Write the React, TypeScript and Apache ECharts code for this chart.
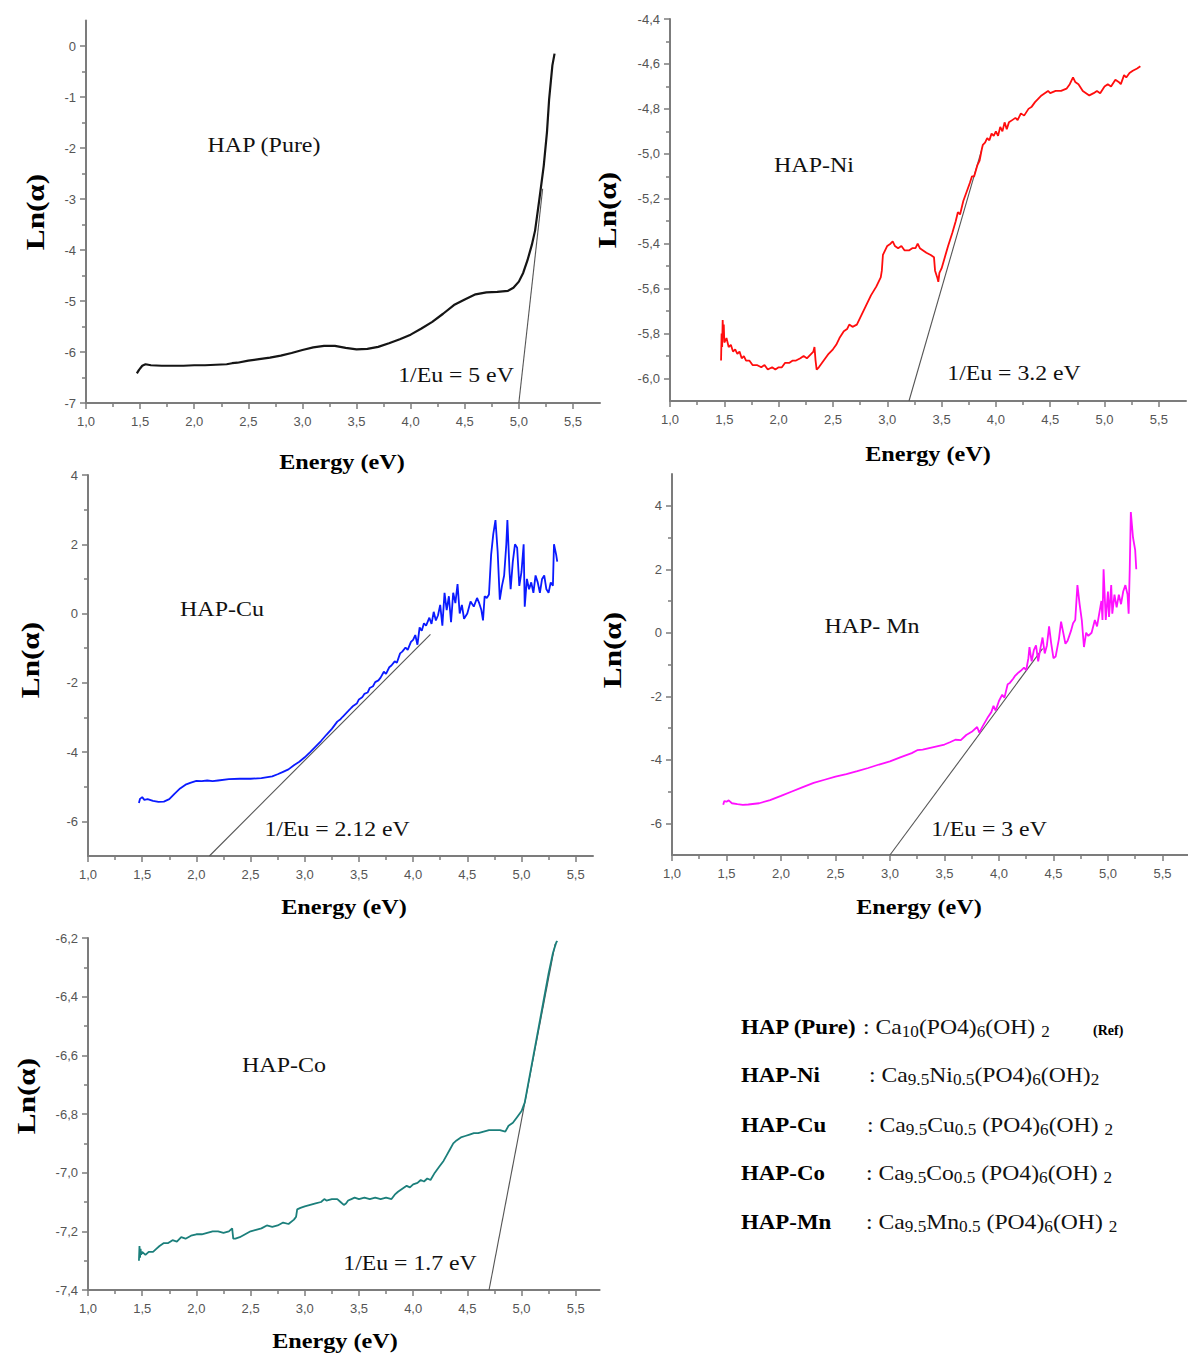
import React, { useEffect, useRef } from 'react';
import * as echarts from 'echarts';

// ---------- data ----------
const xMajorTicks = [1.0, 1.5, 2.0, 2.5, 3.0, 3.5, 4.0, 4.5, 5.0, 5.5];
const xMinorTicks = [1.25, 1.75, 2.25, 2.75, 3.25, 3.75, 4.25, 4.75, 5.25, 5.75];

const pureYMajor = [-7, -6, -5, -4, -3, -2, -1, 0];
const pureYMinor = [-6.5, -5.5, -4.5, -3.5, -2.5, -1.5, -0.5];
const niYMajor = [-6.0, -5.8, -5.6, -5.4, -5.2, -5.0, -4.8, -4.6, -4.4];
const niYMinor = [-5.9, -5.7, -5.5, -5.3, -5.1, -4.9, -4.7, -4.5];
const cuYMajor = [-6, -4, -2, 0, 2, 4];
const cuYMinor = [-5, -3, -1, 1, 3];
const mnYMajor = [-6, -4, -2, 0, 2, 4];
const mnYMinor = [-5, -3, -1, 1, 3];
const coYMajor = [-7.4, -7.2, -7.0, -6.8, -6.6, -6.4, -6.2];
const coYMinor = [-7.3, -7.1, -6.9, -6.7, -6.5, -6.3];

const pureData = [
  [1.47, -6.42], [1.49, -6.35], [1.52, -6.27], [1.55, -6.24], [1.6, -6.26], [1.7, -6.27], [1.8, -6.27],
  [1.9, -6.27], [2.0, -6.26], [2.1, -6.26], [2.2, -6.25], [2.3, -6.24], [2.35, -6.22], [2.4, -6.21],
  [2.5, -6.17], [2.6, -6.14], [2.7, -6.11], [2.8, -6.07], [2.9, -6.02], [3.0, -5.96], [3.1, -5.91],
  [3.2, -5.88], [3.3, -5.88], [3.4, -5.92], [3.5, -5.95], [3.6, -5.94], [3.7, -5.9], [3.8, -5.83],
  [3.9, -5.75], [4.0, -5.66], [4.1, -5.54], [4.2, -5.41], [4.3, -5.25], [4.4, -5.08], [4.5, -4.97],
  [4.6, -4.87], [4.7, -4.83], [4.8, -4.82], [4.9, -4.8], [4.95, -4.74], [5.0, -4.62], [5.04, -4.45],
  [5.08, -4.2], [5.12, -3.9], [5.15, -3.62], [5.19, -3.0], [5.23, -2.35], [5.26, -1.69], [5.28, -1.04],
  [5.31, -0.38], [5.33, -0.15],
];
const pureTangent = [[5.0, -7.0], [5.22, -2.8]];

const niData = [
  [1.47, -5.92], [1.475, -5.8], [1.48, -5.86], [1.485, -5.74], [1.49, -5.82], [1.495, -5.76], [1.5, -5.84],
  [1.52, -5.82], [1.54, -5.86], [1.56, -5.85], [1.58, -5.88], [1.6, -5.87], [1.62, -5.89], [1.64, -5.88],
  [1.66, -5.91], [1.68, -5.9], [1.7, -5.92], [1.73, -5.92], [1.76, -5.94], [1.8, -5.94], [1.84, -5.95],
  [1.87, -5.94], [1.9, -5.96], [1.94, -5.95], [1.97, -5.96], [2.0, -5.95], [2.03, -5.95], [2.06, -5.93],
  [2.1, -5.93], [2.13, -5.92], [2.16, -5.92], [2.2, -5.91], [2.23, -5.9], [2.26, -5.91], [2.3, -5.89],
  [2.32, -5.88], [2.33, -5.86], [2.34, -5.92], [2.35, -5.96], [2.37, -5.95], [2.4, -5.93], [2.43, -5.91],
  [2.46, -5.89], [2.5, -5.87], [2.53, -5.85], [2.56, -5.82], [2.6, -5.79], [2.63, -5.78], [2.65, -5.76],
  [2.68, -5.77], [2.72, -5.76], [2.75, -5.73], [2.8, -5.68], [2.85, -5.63], [2.9, -5.59], [2.94, -5.55],
  [2.95, -5.52], [2.96, -5.45], [2.98, -5.43], [3.0, -5.41], [3.03, -5.4], [3.05, -5.39], [3.07, -5.41],
  [3.1, -5.42], [3.13, -5.41], [3.16, -5.43], [3.2, -5.43], [3.23, -5.42], [3.26, -5.42], [3.28, -5.4],
  [3.3, -5.42], [3.33, -5.43], [3.36, -5.44], [3.4, -5.45], [3.43, -5.46], [3.44, -5.52], [3.46, -5.55],
  [3.47, -5.57], [3.48, -5.53], [3.5, -5.51], [3.53, -5.46], [3.56, -5.41], [3.6, -5.35], [3.63, -5.3],
  [3.65, -5.26], [3.67, -5.27], [3.7, -5.21], [3.73, -5.17], [3.76, -5.13], [3.78, -5.1], [3.8, -5.1],
  [3.83, -5.05], [3.85, -5.03], [3.87, -4.98], [3.88, -4.96], [3.9, -4.95], [3.92, -4.93], [3.94, -4.94],
  [3.96, -4.91], [3.98, -4.92], [4.0, -4.9], [4.02, -4.92], [4.04, -4.88], [4.06, -4.9], [4.08, -4.86],
  [4.1, -4.89], [4.12, -4.86], [4.15, -4.85], [4.18, -4.84], [4.2, -4.85], [4.23, -4.82], [4.26, -4.83],
  [4.3, -4.8], [4.33, -4.79], [4.36, -4.77], [4.4, -4.75], [4.42, -4.74], [4.45, -4.73], [4.48, -4.72],
  [4.5, -4.73], [4.55, -4.72], [4.6, -4.72], [4.65, -4.71], [4.68, -4.69], [4.71, -4.66], [4.73, -4.68],
  [4.76, -4.69], [4.8, -4.72], [4.83, -4.73], [4.86, -4.74], [4.9, -4.73], [4.93, -4.72], [4.96, -4.73],
  [5.0, -4.7], [5.03, -4.69], [5.06, -4.7], [5.1, -4.67], [5.13, -4.68], [5.15, -4.69], [5.18, -4.65],
  [5.2, -4.66], [5.23, -4.64], [5.26, -4.63], [5.3, -4.62], [5.33, -4.61],
];
const niTangent = [[3.2, -6.1], [3.87, -4.98]];

const cuData = [
  [1.47, -5.47], [1.48, -5.35], [1.5, -5.3], [1.52, -5.38], [1.55, -5.36], [1.6, -5.41], [1.65, -5.44],
  [1.7, -5.43], [1.75, -5.36], [1.8, -5.2], [1.85, -5.05], [1.9, -4.94], [1.95, -4.88], [2.0, -4.83],
  [2.05, -4.84], [2.1, -4.82], [2.15, -4.84], [2.2, -4.82], [2.3, -4.78], [2.4, -4.77], [2.5, -4.77],
  [2.6, -4.75], [2.7, -4.7], [2.75, -4.64], [2.8, -4.57], [2.85, -4.5], [2.9, -4.38], [2.95, -4.28],
  [3.0, -4.15], [3.05, -4.0], [3.1, -3.84], [3.15, -3.68], [3.2, -3.5], [3.25, -3.33], [3.3, -3.12],
  [3.33, -3.05], [3.35, -2.98], [3.4, -2.82], [3.43, -2.72], [3.45, -2.66], [3.48, -2.6], [3.5, -2.48],
  [3.53, -2.42], [3.55, -2.32], [3.58, -2.28], [3.6, -2.15], [3.63, -2.1], [3.65, -1.98], [3.68, -1.93],
  [3.7, -1.85], [3.73, -1.68], [3.75, -1.74], [3.78, -1.55], [3.8, -1.5], [3.83, -1.38], [3.85, -1.42],
  [3.88, -1.15], [3.9, -1.1], [3.93, -0.98], [3.95, -1.05], [3.98, -0.82], [4.0, -0.76], [4.02, -0.62],
  [4.04, -0.9], [4.06, -0.4], [4.08, -0.5], [4.1, -0.28], [4.12, -0.35], [4.15, -0.12], [4.17, -0.3],
  [4.19, 0.05], [4.21, -0.2], [4.23, -0.05], [4.25, 0.25], [4.27, -0.35], [4.29, 0.6], [4.31, 0.1],
  [4.33, 0.5], [4.35, -0.25], [4.37, 0.6], [4.39, 0.3], [4.41, 0.85], [4.43, 0.0], [4.45, 0.25],
  [4.47, -0.15], [4.5, 0.0], [4.53, 0.35], [4.56, 0.2], [4.59, 0.45], [4.61, 0.3], [4.63, 0.1],
  [4.645, -0.2], [4.66, 0.5], [4.68, 0.45], [4.7, 0.55], [4.72, 1.7], [4.74, 2.3], [4.76, 2.7],
  [4.78, 1.8], [4.8, 0.4], [4.82, 0.8], [4.84, 1.1], [4.86, 2.0], [4.87, 2.7], [4.89, 1.2], [4.9, 0.7],
  [4.92, 1.5], [4.94, 2.0], [4.96, 1.9], [4.98, 0.8], [5.0, 1.2], [5.02, 2.0], [5.03, 0.2], [5.05, 1.0],
  [5.07, 0.7], [5.09, 0.9], [5.11, 0.6], [5.13, 1.1], [5.15, 0.9], [5.17, 0.6], [5.19, 1.0], [5.21, 1.1],
  [5.23, 0.7], [5.25, 0.6], [5.27, 0.9], [5.29, 0.8], [5.3, 2.0], [5.32, 1.7], [5.33, 1.5],
];
const cuTangent = [[2.12, -7.0], [4.16, -0.6]];

const mnData = [
  [1.47, -5.42], [1.48, -5.3], [1.5, -5.32], [1.52, -5.28], [1.55, -5.37], [1.6, -5.4], [1.65, -5.42],
  [1.7, -5.41], [1.8, -5.37], [1.9, -5.27], [2.0, -5.14], [2.1, -5.0], [2.2, -4.86], [2.3, -4.73],
  [2.4, -4.63], [2.5, -4.53], [2.6, -4.45], [2.7, -4.36], [2.8, -4.26], [2.9, -4.15], [3.0, -4.05],
  [3.1, -3.92], [3.2, -3.79], [3.25, -3.7], [3.3, -3.68], [3.4, -3.6], [3.5, -3.52], [3.55, -3.45],
  [3.6, -3.37], [3.65, -3.38], [3.7, -3.22], [3.75, -3.12], [3.8, -2.97], [3.82, -3.15], [3.85, -2.95],
  [3.9, -2.65], [3.93, -2.5], [3.95, -2.3], [3.97, -2.45], [4.0, -2.15], [4.03, -1.95], [4.05, -2.05],
  [4.08, -1.62], [4.1, -1.58], [4.13, -1.45], [4.15, -1.35], [4.18, -1.25], [4.2, -1.2], [4.23, -1.1],
  [4.25, -1.18], [4.27, -0.8], [4.28, -0.45], [4.3, -0.9], [4.32, -0.55], [4.34, -0.4], [4.36, -0.9],
  [4.38, -0.5], [4.4, -0.15], [4.42, -0.65], [4.44, -0.4], [4.46, 0.2], [4.48, -0.35], [4.5, -0.8],
  [4.52, -0.75], [4.55, -0.2], [4.57, 0.35], [4.59, 0.0], [4.61, -0.35], [4.63, -0.25], [4.66, 0.05],
  [4.68, 0.3], [4.7, 0.4], [4.72, 1.5], [4.74, 0.9], [4.76, 0.4], [4.78, -0.45], [4.8, 0.0], [4.82, -0.1],
  [4.85, 0.0], [4.88, 0.4], [4.9, 0.2], [4.92, 0.6], [4.94, 1.0], [4.95, 0.4], [4.96, 2.0], [4.97, 1.2],
  [4.98, 0.4], [5.0, 1.3], [5.01, 0.5], [5.03, 1.5], [5.04, 0.6], [5.06, 1.2], [5.08, 0.8], [5.1, 1.2],
  [5.12, 0.9], [5.14, 1.3], [5.16, 1.5], [5.18, 1.2], [5.19, 0.6], [5.2, 2.0], [5.21, 3.8], [5.23, 3.0],
  [5.25, 2.6], [5.26, 2.0],
];
const mnTangent = [[3.0, -7.0], [4.4, -0.5]];

const coData = [
  [1.47, -7.3], [1.475, -7.25], [1.48, -7.29], [1.485, -7.26], [1.49, -7.28], [1.5, -7.27], [1.53, -7.28],
  [1.56, -7.27], [1.6, -7.27], [1.63, -7.26], [1.66, -7.25], [1.7, -7.24], [1.74, -7.24], [1.78, -7.23],
  [1.82, -7.235], [1.86, -7.22], [1.9, -7.225], [1.95, -7.215], [2.0, -7.21], [2.05, -7.21], [2.1, -7.205],
  [2.15, -7.2], [2.2, -7.2], [2.25, -7.205], [2.3, -7.2], [2.33, -7.19], [2.34, -7.225], [2.36, -7.225],
  [2.4, -7.22], [2.45, -7.21], [2.5, -7.2], [2.55, -7.195], [2.6, -7.19], [2.65, -7.18], [2.7, -7.185],
  [2.75, -7.18], [2.8, -7.17], [2.85, -7.175], [2.9, -7.16], [2.92, -7.15], [2.93, -7.125], [2.96, -7.12],
  [3.0, -7.115], [3.05, -7.11], [3.1, -7.105], [3.15, -7.1], [3.18, -7.09], [3.2, -7.095], [3.25, -7.09],
  [3.3, -7.09], [3.33, -7.1], [3.36, -7.11], [3.38, -7.105], [3.4, -7.095], [3.43, -7.09], [3.46, -7.085],
  [3.5, -7.09], [3.55, -7.085], [3.6, -7.09], [3.65, -7.085], [3.7, -7.09], [3.75, -7.085], [3.8, -7.09],
  [3.83, -7.075], [3.86, -7.065], [3.9, -7.055], [3.94, -7.045], [3.97, -7.05], [4.0, -7.04], [4.04, -7.035],
  [4.07, -7.025], [4.1, -7.03], [4.13, -7.02], [4.16, -7.025], [4.2, -7.0], [4.24, -6.98], [4.28, -6.96],
  [4.31, -6.94], [4.34, -6.92], [4.37, -6.9], [4.4, -6.89], [4.44, -6.88], [4.48, -6.875], [4.52, -6.87],
  [4.56, -6.865], [4.6, -6.865], [4.65, -6.86], [4.7, -6.855], [4.75, -6.855], [4.8, -6.855], [4.85, -6.86],
  [4.88, -6.84], [4.92, -6.83], [4.96, -6.81], [5.0, -6.79], [5.03, -6.76], [5.06, -6.7], [5.1, -6.62],
  [5.15, -6.52], [5.2, -6.42], [5.25, -6.32], [5.29, -6.25], [5.32, -6.215], [5.33, -6.21],
];
const coTangent = [[4.7, -7.4], [5.31, -6.22]];

const sampleNames = ['HAP (Pure)', 'HAP-Ni', 'HAP-Cu', 'HAP- Mn', 'HAP-Co'];
const gapLabels = ['1/Eu = 5 eV', '1/Eu = 3.2 eV', '1/Eu = 2.12 eV', '1/Eu = 3 eV', '1/Eu = 1.7 eV'];

// ---------- layout ----------
const panels = [
  { data: pureData, tangent: pureTangent, color: '#151515', width: 2.2, xMax: 5.75, yMin: -7, yMax: 0.5, yMajor: pureYMajor, yMinor: pureYMinor, yDec: 0,
    grid: { left: 86, top: 20.5, width: 514, height: 382.5 }, name: { x: 264, y: 144 }, gap: { x: 456, y: 375 }, xt: { x: 342, y: 461 }, yt: { x: 35, y: 212 } },
  { data: niData, tangent: niTangent, color: '#ff0d0d', width: 1.8, xMax: 5.75, yMin: -6.1, yMax: -4.4, yMajor: niYMajor, yMinor: niYMinor, yDec: 1,
    grid: { left: 670, top: 19, width: 516, height: 382 }, name: { x: 814, y: 164 }, gap: { x: 1014, y: 373 }, xt: { x: 928, y: 453 }, yt: { x: 607, y: 210 } },
  { data: cuData, tangent: cuTangent, color: '#0a1aff', width: 1.8, xMax: 5.66, yMin: -7, yMax: 4, yMajor: cuYMajor, yMinor: cuYMinor, yDec: 0,
    grid: { left: 88, top: 475, width: 505, height: 381 }, name: { x: 222, y: 608 }, gap: { x: 337, y: 829 }, xt: { x: 344, y: 906 }, yt: { x: 30, y: 660 } },
  { data: mnData, tangent: mnTangent, color: '#ff10ff', width: 1.8, xMax: 5.73, yMin: -7, yMax: 5, yMajor: mnYMajor, yMinor: mnYMinor, yDec: 0,
    grid: { left: 672, top: 474, width: 515.5, height: 381 }, name: { x: 872, y: 625 }, gap: { x: 989, y: 829 }, xt: { x: 919, y: 906 }, yt: { x: 612, y: 650 } },
  { data: coData, tangent: coTangent, color: '#1b7f7b', width: 1.8, xMax: 5.72, yMin: -7.4, yMax: -6.2, yMajor: coYMajor, yMinor: coYMinor, yDec: 1,
    grid: { left: 88, top: 938, width: 511.6, height: 352 }, name: { x: 284, y: 1064 }, gap: { x: 410, y: 1263 }, xt: { x: 335, y: 1340 }, yt: { x: 26, y: 1096 } },
];

const legendRows = [
  { label: 'HAP (Pure)', formula: ': Ca{s|10}(PO4){s|6}(OH) {s|2}', y: 1027, fx: 863 },
  { label: 'HAP-Ni', formula: ': Ca{s|9.5}Ni{s|0.5}(PO4){s|6}(OH){s|2}', y: 1075, fx: 869 },
  { label: 'HAP-Cu', formula: ': Ca{s|9.5}Cu{s|0.5} (PO4){s|6}(OH) {s|2}', y: 1125, fx: 867 },
  { label: 'HAP-Co', formula: ': Ca{s|9.5}Co{s|0.5} (PO4){s|6}(OH) {s|2}', y: 1173, fx: 866 },
  { label: 'HAP-Mn', formula: ': Ca{s|9.5}Mn{s|0.5} (PO4){s|6}(OH) {s|2}', y: 1222, fx: 866 },
];

const AXIS_COLOR = '#7c7c7c';
const LABEL_COLOR = '#555555';
const SERIF = '"Liberation Serif", "Times New Roman", serif';
const SANS = '"Liberation Sans", Arial, sans-serif';
const fmt = (d: number) => (v: number) => Number(v).toFixed(d).replace('.', ',');

function buildOption() {
  const grid: any[] = [];
  const xAxis: any[] = [];
  const yAxis: any[] = [];
  const series: any[] = [];
  const graphic: any[] = [];

  panels.forEach((p, i) => {
    grid.push({ ...p.grid, containLabel: false, outerBoundsMode: 'none' });
    const xMinor = xMinorTicks.filter((v) => v < p.xMax - 1e-9);
    xAxis.push({
      type: 'value', gridIndex: i, min: 1, max: p.xMax, position: 'bottom',
      axisLine: { show: true, onZero: false, lineStyle: { color: AXIS_COLOR, width: 2 } },
      axisTick: { show: true, length: 6, inside: false, customValues: xMajorTicks, lineStyle: { color: AXIS_COLOR, width: 1.5 } },
      axisLabel: { show: true, customValues: xMajorTicks, formatter: fmt(1), margin: 12, color: LABEL_COLOR, fontSize: 13, fontFamily: SANS },
      splitLine: { show: false },
    });
    xAxis.push({
      type: 'value', gridIndex: i, min: 1, max: p.xMax, position: 'bottom',
      axisLine: { show: false, onZero: false },
      axisTick: { show: true, length: 4, customValues: xMinor, lineStyle: { color: AXIS_COLOR, width: 1.5 } },
      axisLabel: { show: false },
      splitLine: { show: false },
    });
    yAxis.push({
      type: 'value', gridIndex: i, min: p.yMin, max: p.yMax, position: 'left',
      axisLine: { show: true, onZero: false, lineStyle: { color: AXIS_COLOR, width: 2 } },
      axisTick: { show: true, length: 6, customValues: p.yMajor, lineStyle: { color: AXIS_COLOR, width: 1.5 } },
      axisLabel: { show: true, customValues: p.yMajor, formatter: fmt(p.yDec), margin: 10, color: LABEL_COLOR, fontSize: 13, fontFamily: SANS },
      splitLine: { show: false },
    });
    yAxis.push({
      type: 'value', gridIndex: i, min: p.yMin, max: p.yMax, position: 'left',
      axisLine: { show: false, onZero: false },
      axisTick: { show: true, length: 4, customValues: p.yMinor, lineStyle: { color: AXIS_COLOR, width: 1.5 } },
      axisLabel: { show: false },
      splitLine: { show: false },
    });
    series.push({
      type: 'line', xAxisIndex: 2 * i, yAxisIndex: 2 * i, data: p.tangent, showSymbol: false, symbol: 'none',
      lineStyle: { color: '#555555', width: 1.1 }, z: 2, silent: true,
    });
    series.push({
      type: 'line', xAxisIndex: 2 * i, yAxisIndex: 2 * i, data: p.data, showSymbol: false, symbol: 'none',
      lineStyle: { color: p.color, width: p.width }, z: 3, silent: true,
    });

    graphic.push({ type: 'text', x: p.name.x, y: p.name.y, scaleX: 1.09, style: { text: sampleNames[i], fill: '#111', fontSize: 22, fontFamily: SERIF, align: 'center', verticalAlign: 'middle' } });
    graphic.push({ type: 'text', x: p.gap.x, y: p.gap.y, scaleX: 1.08, style: { text: gapLabels[i], fill: '#111', fontSize: 22, fontFamily: SERIF, align: 'center', verticalAlign: 'middle' } });
    graphic.push({ type: 'text', x: p.xt.x, y: p.xt.y, scaleX: 1.1, style: { text: 'Energy (eV)', fill: '#000', fontSize: 22, fontWeight: 'bold', fontFamily: SERIF, align: 'center', verticalAlign: 'middle' } });
    graphic.push({ type: 'text', x: p.yt.x, y: p.yt.y, rotation: Math.PI / 2, scaleX: 1.2, style: { text: 'Ln(α)', fill: '#000', fontSize: 26, fontWeight: 'bold', fontFamily: SERIF, align: 'center', verticalAlign: 'middle' } });
  });

  legendRows.forEach((r) => {
    graphic.push({ type: 'text', x: 741, y: r.y, scaleX: 1.04, style: { text: r.label, fill: '#000', fontSize: 22, fontWeight: 'bold', fontFamily: SERIF, align: 'left', verticalAlign: 'middle' } });
    graphic.push({
      type: 'text', x: r.fx, y: r.y, scaleX: 1.075,
      style: {
        text: r.formula, fill: '#111', fontSize: 22, fontFamily: SERIF, align: 'left', verticalAlign: 'middle', lineHeight: 26,
        rich: { s: { fontSize: 16, fontFamily: SERIF, fill: '#111', verticalAlign: 'bottom', lineHeight: 26 } },
      },
    });
  });
  graphic.push({ type: 'text', x: 1093, y: 1030, style: { text: '(Ref)', fill: '#000', fontSize: 14, fontWeight: 'bold', fontFamily: SERIF, align: 'left', verticalAlign: 'middle' } });

  return { animation: false, backgroundColor: '#ffffff', grid, xAxis, yAxis, series, graphic };
}

export default function App() {
  const ref = useRef<HTMLDivElement>(null);
  useEffect(() => {
    if (!ref.current) return;
    const chart = echarts.init(ref.current, null, { renderer: 'svg' });
    chart.setOption(buildOption() as any);
    return () => chart.dispose();
  }, []);
  return <div ref={ref} style={{ position: 'absolute', left: 0, top: 0, width: 1188, height: 1354, background: '#fff' }} />;
}
